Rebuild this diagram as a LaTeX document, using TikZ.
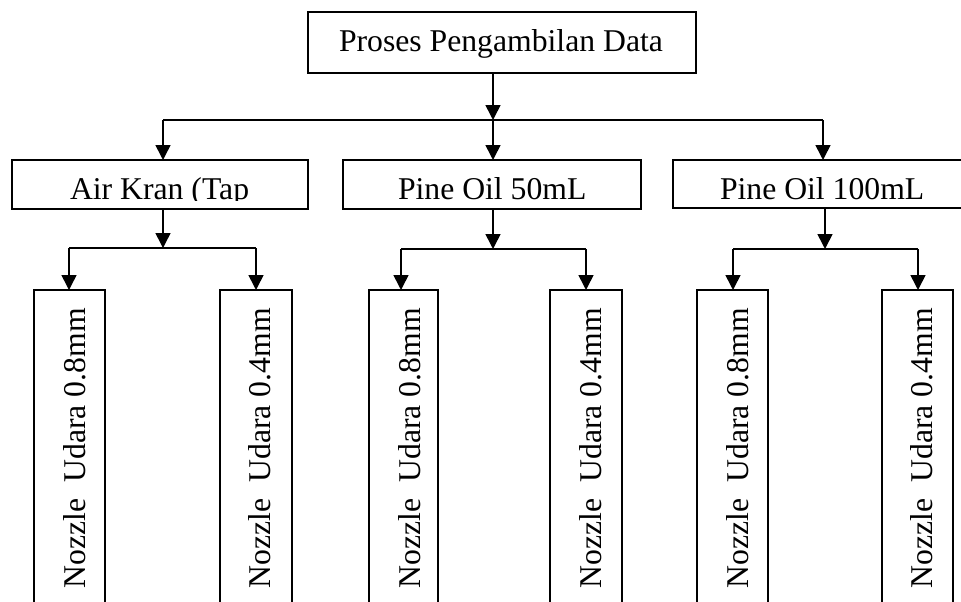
\documentclass[tikz,border=0pt]{standalone}
\usepackage{fontspec}
\setmainfont{Liberation Serif}
\usetikzlibrary{arrows.meta}
\tikzset{
  box/.style={draw, line width=1.6pt, inner sep=0pt, outer sep=0pt, anchor=north west},
  lab/.style={inner sep=0pt, outer sep=0pt, anchor=base west, font=\fontsize{31.7}{36}\selectfont},
  vlab/.style={lab, rotate=90},
  arr/.style={line width=1.6pt, -{Triangle[length=15pt,width=15pt]}},
  ln/.style={line width=1.6pt}
}
\begin{document}
\begin{tikzpicture}[x=1pt,y=-1pt]
\useasboundingbox (0,0) rectangle (961,602);
\clip (0,0) rectangle (961,602);
% top
\node[box, minimum width=388pt, minimum height=61pt] (top) at (308,12) {};
\node[lab] (toptxt) at (339,52) {Proses Pengambilan Data};
% row 2
\node[box, minimum width=296pt, minimum height=49pt] (b1) at (12,160) {};
\node[box, minimum width=298pt, minimum height=49pt] (b2) at (343,160) {};
\node[box, minimum width=300pt, minimum height=48pt] (b3) at (673,160) {};
\begin{scope}
\clip (12,160) rectangle (308,200);
\node[lab] (t1) at (70,199) {Air Kran (Tap};
\end{scope}
\node[lab] (t2) at (398,199) {Pine Oil 50mL};
\node[lab] (t3) at (720,199) {Pine Oil 100mL};
% row 3
\node[box, minimum width=71pt, minimum height=340pt] (n11) at (34,290) {};
\node[box, minimum width=72pt, minimum height=340pt] (n12) at (220,290) {};
\node[box, minimum width=69pt, minimum height=340pt] (n21) at (369,290) {};
\node[box, minimum width=72pt, minimum height=340pt] (n22) at (550,290) {};
\node[box, minimum width=71pt, minimum height=340pt] (n31) at (697,290) {};
\node[box, minimum width=71pt, minimum height=340pt] (n32) at (882,290) {};
\node[vlab] (v11) at (85,588) {Nozzle\ \ Udara 0.8mm};
\node[vlab] (v12) at (270,588) {Nozzle\ \ Udara 0.4mm};
\node[vlab] (v21) at (420,588) {Nozzle\ \ Udara 0.8mm};
\node[vlab] (v22) at (601,588) {Nozzle\ \ Udara 0.4mm};
\node[vlab] (v31) at (748,588) {Nozzle\ \ Udara 0.8mm};
\node[vlab] (v32) at (932,588) {Nozzle\ \ Udara 0.4mm};
% connectors level 1
\coordinate (j0) at (493,120);
\coordinate (jl) at (163,120);
\coordinate (jr) at (823,120);
\draw[arr] (top.south -| j0) -- (j0);
\draw[ln] (jl) -- (jr);
\draw[arr] (j0) -- (j0 |- b2.north);
\draw[arr] (jl) -- (jl |- b1.north);
\draw[arr] (jr) -- (jr |- b3.north);
% group 1
\coordinate (g1) at (163,248);
\coordinate (g1l) at (69,248);
\coordinate (g1r) at (256,248);
\draw[arr] (b1.south -| g1) -- (g1);
\draw[ln] (g1l) -- (g1r);
\draw[arr] (g1l) -- (g1l |- n11.north);
\draw[arr] (g1r) -- (g1r |- n12.north);
% group 2
\coordinate (g2) at (493,249);
\coordinate (g2l) at (401,249);
\coordinate (g2r) at (586,249);
\draw[arr] (b2.south -| g2) -- (g2);
\draw[ln] (g2l) -- (g2r);
\draw[arr] (g2l) -- (g2l |- n21.north);
\draw[arr] (g2r) -- (g2r |- n22.north);
% group 3
\coordinate (g3) at (825,249);
\coordinate (g3l) at (733,249);
\coordinate (g3r) at (918,249);
\draw[arr] (b3.south -| g3) -- (g3);
\draw[ln] (g3l) -- (g3r);
\draw[arr] (g3l) -- (g3l |- n31.north);
\draw[arr] (g3r) -- (g3r |- n32.north);
\end{tikzpicture}
\end{document}
